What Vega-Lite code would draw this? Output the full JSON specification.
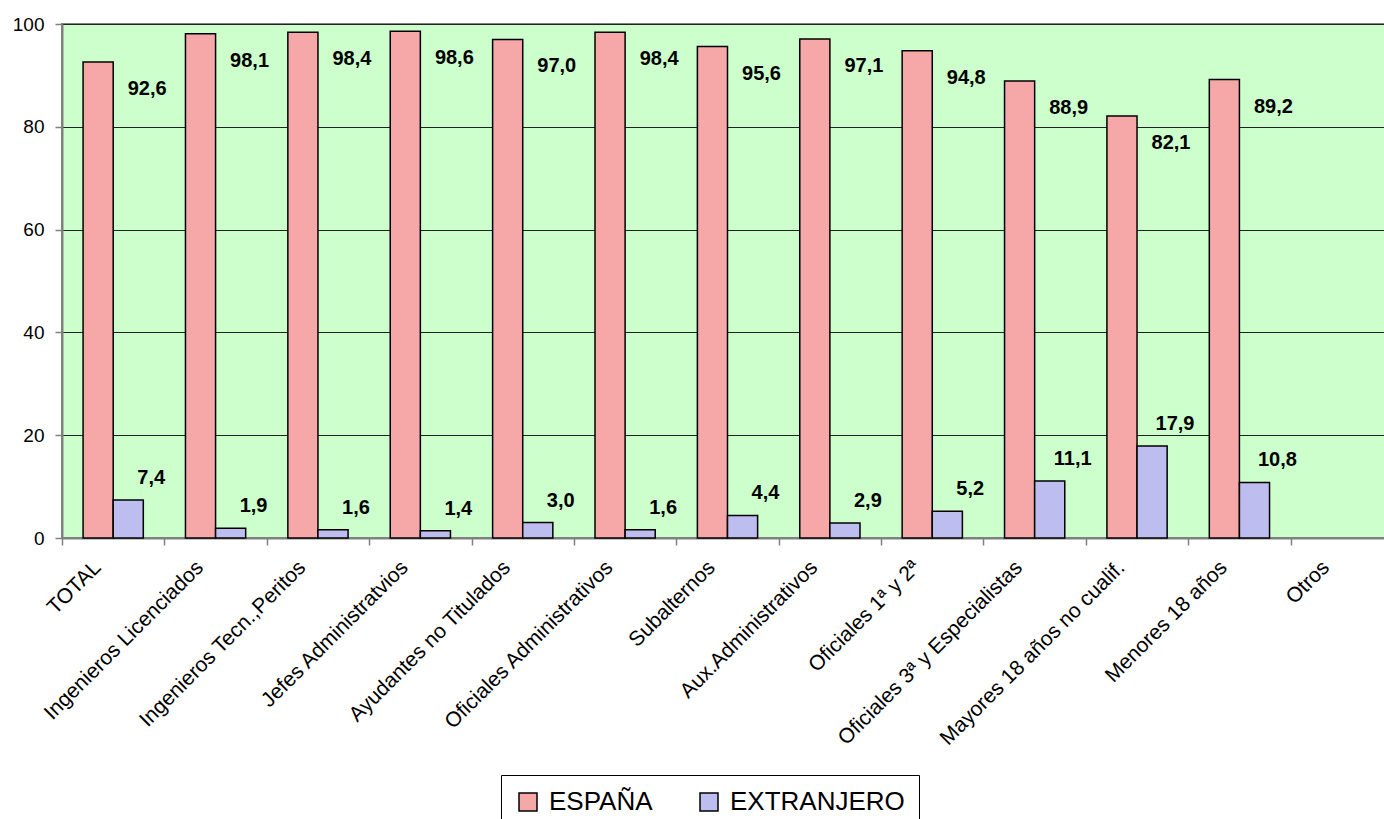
{
  "$schema": "https://vega.github.io/schema/vega-lite/v6.json",
  "autosize": {"type": "none"},
  "padding": {"left": 62, "top": 24, "right": 0, "bottom": 281},
  "width": 1331,
  "height": 514,
  "background": "white",
  "config": {
    "font": "Liberation Sans",
    "locale": {"number": {"decimal": ",", "thousands": ".", "grouping": [3], "currency": ["", " €"]}},
    "view": {"fill": "#CCFFCC", "stroke": "#808080", "strokeWidth": 2},
    "axis": {"labelFont": "Liberation Sans", "labelColor": "black", "labelFontSize": 19, "tickColor": "#808080", "domainColor": "#808080", "domainWidth": 2, "tickSize": 7, "tickWidth": 1.5, "title": null}
  },
  "data": {
    "values": [
      {"cat": "TOTAL", "origen": "ESPAÑA", "valor": 92.6},
      {"cat": "TOTAL", "origen": "EXTRANJERO", "valor": 7.4},
      {"cat": "Ingenieros Licenciados", "origen": "ESPAÑA", "valor": 98.1},
      {"cat": "Ingenieros Licenciados", "origen": "EXTRANJERO", "valor": 1.9},
      {"cat": "Ingenieros Tecn.,Peritos", "origen": "ESPAÑA", "valor": 98.4},
      {"cat": "Ingenieros Tecn.,Peritos", "origen": "EXTRANJERO", "valor": 1.6},
      {"cat": "Jefes Administratvios", "origen": "ESPAÑA", "valor": 98.6},
      {"cat": "Jefes Administratvios", "origen": "EXTRANJERO", "valor": 1.4},
      {"cat": "Ayudantes no Titulados", "origen": "ESPAÑA", "valor": 97.0},
      {"cat": "Ayudantes no Titulados", "origen": "EXTRANJERO", "valor": 3.0},
      {"cat": "Oficiales Administrativos", "origen": "ESPAÑA", "valor": 98.4},
      {"cat": "Oficiales Administrativos", "origen": "EXTRANJERO", "valor": 1.6},
      {"cat": "Subalternos", "origen": "ESPAÑA", "valor": 95.6},
      {"cat": "Subalternos", "origen": "EXTRANJERO", "valor": 4.4},
      {"cat": "Aux.Administrativos", "origen": "ESPAÑA", "valor": 97.1},
      {"cat": "Aux.Administrativos", "origen": "EXTRANJERO", "valor": 2.9},
      {"cat": "Oficiales 1ª y 2ª", "origen": "ESPAÑA", "valor": 94.8},
      {"cat": "Oficiales 1ª y 2ª", "origen": "EXTRANJERO", "valor": 5.2},
      {"cat": "Oficiales 3ª y Especialistas", "origen": "ESPAÑA", "valor": 88.9},
      {"cat": "Oficiales 3ª y Especialistas", "origen": "EXTRANJERO", "valor": 11.1},
      {"cat": "Mayores 18 años no cualif.", "origen": "ESPAÑA", "valor": 82.1},
      {"cat": "Mayores 18 años no cualif.", "origen": "EXTRANJERO", "valor": 17.9},
      {"cat": "Menores 18 años", "origen": "ESPAÑA", "valor": 89.2},
      {"cat": "Menores 18 años", "origen": "EXTRANJERO", "valor": 10.8}
    ]
  },
  "encoding": {
    "x": {
      "field": "cat", "type": "nominal", "sort": null,
      "scale": {"domain": ["TOTAL", "Ingenieros Licenciados", "Ingenieros Tecn.,Peritos", "Jefes Administratvios", "Ayudantes no Titulados", "Oficiales Administrativos", "Subalternos", "Aux.Administrativos", "Oficiales 1ª y 2ª", "Oficiales 3ª y Especialistas", "Mayores 18 años no cualif.", "Menores 18 años", "Otros"], "paddingInner": 0, "paddingOuter": 0},
      "axis": {"tickBand": "extent", "labelAngle": -45, "labelAlign": "right", "labelBaseline": "middle", "labelPadding": 19, "labelOffset": -16, "labelLimit": 500, "labelFontSize": 21, "grid": false}
    },
    "y": {
      "field": "valor", "type": "quantitative",
      "scale": {"domain": [0, 100], "nice": false},
      "axis": {"values": [0, 20, 40, 60, 80, 100], "grid": true, "gridColor": "#222222", "gridWidth": 1, "labelPadding": 11}
    }
  },
  "layer": [
    {
      "mark": {"type": "bar", "stroke": "black", "strokeWidth": 1.5},
      "encoding": {
        "xOffset": {"field": "origen", "type": "nominal", "scale": {"domain": ["ESPAÑA", "EXTRANJERO"], "paddingOuter": 0.7, "paddingInner": 0}},
        "fill": {
          "field": "origen", "type": "nominal",
          "scale": {"domain": ["ESPAÑA", "EXTRANJERO"], "range": ["#F6A8A8", "#BDBDF0"]},
          "legend": {
            "title": null, "orient": "none", "direction": "horizontal", "legendX": 439, "legendY": 751,
            "padding": 14, "strokeColor": "black", "fillColor": "white",
            "symbolType": "square", "symbolSize": 324, "symbolStrokeColor": "black", "symbolStrokeWidth": 1.5,
            "labelFontSize": 26, "labelFont": "Liberation Sans", "labelColor": "black", "labelOffset": 8, "labelLimit": 400, "columnPadding": 43
          }
        }
      }
    },
    {
      "transform": [{"filter": "datum.origen === 'ESPAÑA'"}],
      "mark": {"type": "text", "fontWeight": "bold", "fontSize": 20, "font": "Liberation Sans", "color": "black", "dx": 34, "dy": 27, "baseline": "middle", "align": "center"},
      "encoding": {"text": {"field": "valor", "type": "quantitative", "format": ".1f"}}
    },
    {
      "transform": [{"filter": "datum.origen === 'EXTRANJERO'"}],
      "mark": {"type": "text", "fontWeight": "bold", "fontSize": 20, "font": "Liberation Sans", "color": "black", "dx": 38, "dy": -22, "baseline": "middle", "align": "center"},
      "encoding": {"text": {"field": "valor", "type": "quantitative", "format": ".1f"}}
    }
  ]
}
